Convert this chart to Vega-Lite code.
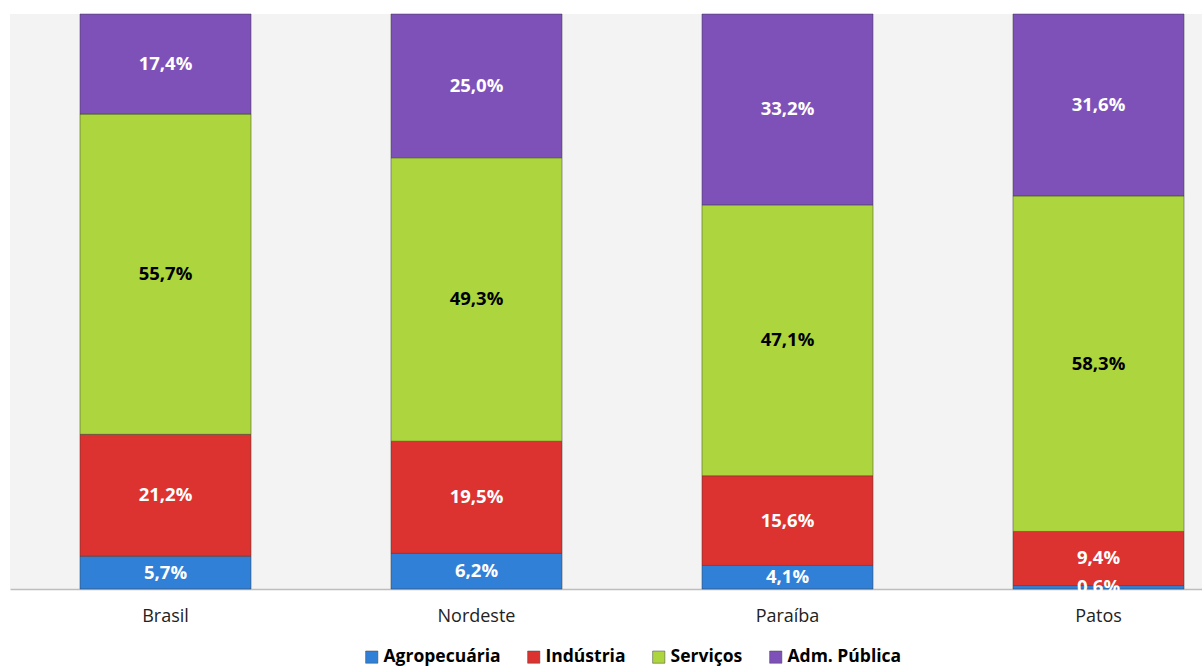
{
  "$schema": "https://vega.github.io/schema/vega-lite/v6.json",
  "width": 1244,
  "height": 575,
  "padding": {"left": 10, "top": 13, "right": 0, "bottom": 0},
  "background": "white",
  "data": {"values": [
    {"regiao": "Brasil", "setor": "Agropecuária", "ordem": 1, "valor": 5.7},
    {"regiao": "Brasil", "setor": "Indústria", "ordem": 2, "valor": 21.2},
    {"regiao": "Brasil", "setor": "Serviços", "ordem": 3, "valor": 55.7},
    {"regiao": "Brasil", "setor": "Adm. Pública", "ordem": 4, "valor": 17.4},
    {"regiao": "Nordeste", "setor": "Agropecuária", "ordem": 1, "valor": 6.2},
    {"regiao": "Nordeste", "setor": "Indústria", "ordem": 2, "valor": 19.5},
    {"regiao": "Nordeste", "setor": "Serviços", "ordem": 3, "valor": 49.3},
    {"regiao": "Nordeste", "setor": "Adm. Pública", "ordem": 4, "valor": 25.0},
    {"regiao": "Paraíba", "setor": "Agropecuária", "ordem": 1, "valor": 4.1},
    {"regiao": "Paraíba", "setor": "Indústria", "ordem": 2, "valor": 15.6},
    {"regiao": "Paraíba", "setor": "Serviços", "ordem": 3, "valor": 47.1},
    {"regiao": "Paraíba", "setor": "Adm. Pública", "ordem": 4, "valor": 33.2},
    {"regiao": "Patos", "setor": "Agropecuária", "ordem": 1, "valor": 0.6},
    {"regiao": "Patos", "setor": "Indústria", "ordem": 2, "valor": 9.4},
    {"regiao": "Patos", "setor": "Serviços", "ordem": 3, "valor": 58.3},
    {"regiao": "Patos", "setor": "Adm. Pública", "ordem": 4, "valor": 31.6}
  ]},
  "transform": [
    {"stack": "valor", "groupby": ["regiao"], "sort": [{"field": "ordem"}], "offset": "normalize", "as": ["y0", "y1"]},
    {"calculate": "(datum.y0 + datum.y1) / 2", "as": "ymid"},
    {"calculate": "replace(format(datum.valor, '.1f'), '.', ',') + '%'", "as": "rotulo"}
  ],
  "encoding": {
    "x": {
      "field": "regiao", "type": "nominal", "sort": ["Brasil", "Nordeste", "Paraíba", "Patos"],
      "scale": {"paddingInner": 0.45, "paddingOuter": 0.225},
      "axis": {"title": null, "labelAngle": 0, "ticks": false, "domainColor": "#bdbdbd", "domainWidth": 1.5, "labelFont": "Open Sans", "labelFontSize": 18, "labelColor": "#222", "labelPadding": 18}
    }
  },
  "layer": [
    {
      "mark": {"type": "bar", "stroke": "#333", "strokeOpacity": 0.45, "strokeWidth": 1},
      "encoding": {
        "y": {"field": "y0", "type": "quantitative", "scale": {"domain": [0, 1], "nice": false}, "axis": null},
        "y2": {"field": "y1"},
        "color": {
          "field": "setor", "type": "nominal",
          "sort": ["Agropecuária", "Indústria", "Serviços", "Adm. Pública"],
          "scale": {"domain": ["Agropecuária", "Indústria", "Serviços", "Adm. Pública"], "range": ["#3180d8", "#dc3330", "#acd53e", "#7e51b9"]},
          "legend": {"title": null, "orient": "bottom", "direction": "horizontal", "symbolType": "square", "symbolSize": 150, "symbolStrokeColor": "#444", "symbolStrokeWidth": 0.5, "labelFont": "Open Sans", "labelFontSize": 17.5, "labelFontWeight": "bold", "labelColor": "#000", "columnPadding": 24, "symbolOffset": 0, "labelOffset": 3, "offset": 23}
        }
      }
    },
    {
      "mark": {"type": "text", "font": "Open Sans", "fontSize": 18.5, "fontWeight": "bold", "baseline": "middle", "align": "center"},
      "encoding": {
        "y": {"field": "ymid", "type": "quantitative"},
        "text": {"field": "rotulo"},
        "color": {"condition": {"test": "datum.setor === 'Serviços'", "value": "#000"}, "value": "#fff"}
      }
    }
  ],
  "config": {
    "view": {"fill": "#f3f3f3", "stroke": null},
    "legend": {"layout": {"bottom": {"anchor": "middle"}}}
  }
}
